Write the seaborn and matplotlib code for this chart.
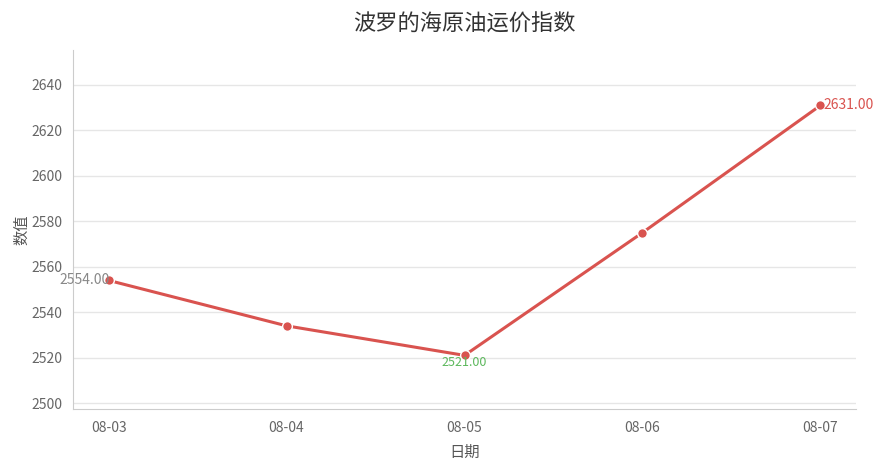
import pandas as pd
import seaborn as sns
import matplotlib.pyplot as plt

dates = ['08-03', '08-04', '08-05', '08-06', '08-07']
values = [2554, 2534, 2521, 2575, 2631]
yticks = [2500, 2520, 2540, 2560, 2580, 2600, 2620, 2640]

sns.set_style('white')
plt.rcParams['font.family'] = ['Noto Sans CJK SC', 'DejaVu Sans']

df = pd.DataFrame({'日期': dates, '数值': values})
df['pos'] = range(len(df))

fig = plt.figure(figsize=(8.84, 4.68), dpi=100)
ax = fig.add_axes([73 / 884, 1 - 409 / 468, (856 - 73) / 884, (409 - 50) / 468])

line_c = '#d9534f'
sns.lineplot(data=df, x='pos', y='数值', ax=ax, color=line_c, linewidth=2.2,
             marker='o', markersize=7, markeredgecolor='white', markeredgewidth=1)

ax.set_xlim(-0.2, 4.2)
ax.set_ylim(2497.4, 2655.4)
ax.set_xticks(df['pos'])
ax.set_xticklabels(dates)
ax.set_yticks(yticks)
ax.grid(axis='y', color='#e6e6e6', linewidth=1)
ax.set_axisbelow(True)
for s in ['top', 'right']:
    ax.spines[s].set_visible(False)
for s in ['left', 'bottom']:
    ax.spines[s].set_color('#cccccc')
ax.tick_params(axis='both', colors='#cccccc', labelcolor='#666666', labelsize=10, length=4)
ax.tick_params(axis='x', pad=5)
ax.set_xlabel('日期', fontsize=11, color='#555555', labelpad=6)
ax.set_ylabel('数值', fontsize=11, color='#555555', labelpad=1)
ax.set_title('波罗的海原油运价指数', fontsize=16, color='#333333', pad=14)

# annotations: first, min, max
i_first = 0
i_min = values.index(min(values))
i_max = values.index(max(values))
ax.annotate(f'{values[i_first]:.2f}', (i_first, values[i_first]), xytext=(1, 0),
            textcoords='offset points', ha='right', va='center', fontsize=10, color='#888888')
ax.annotate(f'{values[i_min]:.2f}', (i_min, values[i_min]), xytext=(0, -0.5),
            textcoords='offset points', ha='center', va='top', fontsize=9, color='#5cb85c')
ax.annotate(f'{values[i_max]:.2f}', (i_max, values[i_max]), xytext=(2, 0),
            textcoords='offset points', ha='left', va='center', fontsize=10, color=line_c)

fig.savefig('out.png', dpi=100)
